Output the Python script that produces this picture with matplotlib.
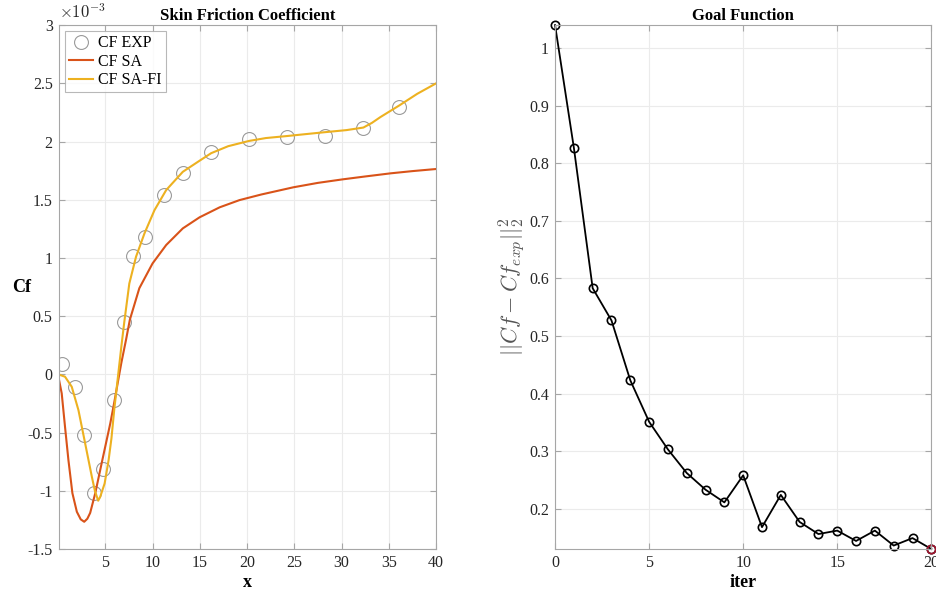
import numpy as np
import matplotlib
matplotlib.use("Agg")
import matplotlib.pyplot as plt
from matplotlib.ticker import FuncFormatter

plt.rcParams["font.family"] = ["Liberation Serif", "DejaVu Serif"]
plt.rcParams["mathtext.fontset"] = "cm"
plt.rcParams["axes.unicode_minus"] = False

# skin friction data, Cf values in units of 1e-3
x_exp = [0.46, 1.77, 2.77, 3.76, 4.79, 5.89, 7.02, 7.98, 9.15, 11.17, 13.2,
         16.2, 20.25, 24.2, 28.2, 32.3, 36.1]
cf_exp = [0.088, -0.112, -0.52, -1.017, -0.816, -0.221, 0.452, 1.019, 1.182,
          1.54, 1.73, 1.91, 2.02, 2.04, 2.05, 2.12, 2.30]

x_sa = [0.04, 0.39, 0.74, 1.1, 1.52, 1.99, 2.4, 2.77, 3.1, 3.4, 3.94, 4.65,
        5.53, 5.95, 6.3, 6.7, 7.2, 7.6, 8.6, 10.0, 11.44, 13.2, 14.97, 17.1,
        19.2, 21.5, 24.9, 27.5, 30.1, 32.5, 35.2, 37.5, 40.0]
cf_sa = [-0.02, -0.163, -0.45, -0.736, -1.02, -1.18, -1.245, -1.266, -1.24,
         -1.19, -1.02, -0.75, -0.42, -0.24, -0.08, 0.10, 0.30, 0.47, 0.74,
         0.953, 1.111, 1.254, 1.349, 1.435, 1.497, 1.545, 1.607, 1.645, 1.675,
         1.70, 1.727, 1.746, 1.764]

x_safi = [0.04, 0.74, 1.45, 2.16, 2.87, 3.58, 3.9, 4.25, 4.47, 4.93, 5.35,
          5.65, 5.95, 6.2, 6.45, 6.7, 7.01, 7.54, 8.25, 9.14, 10.2, 11.44,
          13.2, 14.97, 16.2, 18.0, 20.2, 22.0, 24.2, 26.0, 28.2, 30.5, 32.3,
          33.2, 34.1, 35.1, 36.1, 38.0, 40.0]
cf_safi = [0.0, -0.02, -0.106, -0.307, -0.593, -0.88, -1.0, -1.085, -1.05,
           -0.937, -0.736, -0.55, -0.3, -0.12, 0.06, 0.24, 0.45, 0.78, 1.01,
           1.21, 1.41, 1.583, 1.74, 1.835, 1.90, 1.96, 2.005, 2.03, 2.047,
           2.062, 2.08, 2.098, 2.12, 2.16, 2.21, 2.26, 2.31, 2.41, 2.50]

# goal function history
iters = list(range(21))
goal = [1.04, 0.827, 0.583, 0.527, 0.423, 0.351, 0.303, 0.262, 0.233, 0.211,
        0.258, 0.168, 0.224, 0.177, 0.156, 0.162, 0.144, 0.162, 0.136, 0.149,
        0.130]

scale = 1e-3
grid_c = "#EBEBEB"
spine_c = "#A6A6A6"
txt_c = "#262626"

fig = plt.figure(figsize=(9.36, 5.92), dpi=100)
ax1 = fig.add_axes([0.063, 0.0726, 0.403, 0.885])
ax2 = fig.add_axes([0.593, 0.0726, 0.402, 0.885])


def style(ax):
    ax.grid(True, color=grid_c, linewidth=0.8)
    ax.set_axisbelow(True)
    for s in ax.spines.values():
        s.set_color(spine_c)
        s.set_linewidth(0.8)
    ax.tick_params(direction="in", top=True, right=True, colors=spine_c,
                   labelcolor=txt_c, labelsize=11.5, length=4, pad=4.5)


# left panel
ax1.plot(np.array(x_exp), np.array(cf_exp) * scale, "o", mfc="none",
         mec="#9A9A9A", ms=10, mew=0.8, label="CF EXP")
ax1.plot(np.array(x_sa), np.array(cf_sa) * scale, color="#D95319", lw=1.5,
         label="CF SA")
ax1.plot(np.array(x_safi), np.array(cf_safi) * scale, color="#EDB120", lw=1.5,
         label="CF SA-FI")
ax1.set_xlim(0.1, 40)
ax1.set_ylim(-1.5e-3, 3e-3)
ax1.set_xticks([5, 10, 15, 20, 25, 30, 35, 40])
ax1.set_yticks(np.arange(-1.5, 3.01, 0.5) * scale)
ax1.yaxis.set_major_formatter(FuncFormatter(lambda v, _: f"{v / scale:g}"))
style(ax1)
ax1.set_title("Skin Friction Coefficient", fontweight="bold", fontsize=12,
              pad=4)
ax1.set_xlabel("x", fontweight="bold", fontsize=13, labelpad=2)
ax1.set_ylabel("Cf", fontweight="bold", fontsize=13, rotation=0, va="center")
ax1.yaxis.set_label_coords(-0.10, 0.5)
ax1.text(0.0, 1.005, r"$\times10^{-3}$", transform=ax1.transAxes, fontsize=12,
         color=txt_c, ha="left", va="bottom")
leg = ax1.legend(loc="upper left", fontsize=11.5, frameon=True, fancybox=False,
                 borderaxespad=0.4, handlelength=1.5, handletextpad=0.3,
                 borderpad=0.25, labelspacing=0.15)
leg.get_frame().set_edgecolor("#A6A6A6")
leg.get_frame().set_linewidth(0.8)

# right panel
ax2.plot(iters, goal, "-o", color="black", mfc="none", ms=6, mew=1.2, lw=1.3)
ax2.plot(iters[-1], goal[-1], "o", mfc="none", mec="#A2142F", ms=6, mew=1.2)
ax2.set_xlim(0, 20)
ax2.set_ylim(min(goal), max(goal))
ax2.set_xticks([0, 5, 10, 15, 20])
ax2.set_yticks([0.2, 0.3, 0.4, 0.5, 0.6, 0.7, 0.8, 0.9, 1.0])
ax2.yaxis.set_major_formatter(FuncFormatter(lambda v, _: f"{v:g}"))
for l in ax2.get_lines():
    l.set_clip_on(False)
style(ax2)
ax2.set_title("Goal Function", fontweight="bold", fontsize=12, pad=4)
ax2.set_xlabel("iter", fontweight="bold", fontsize=13, labelpad=2)
ax2.set_ylabel(r"$||Cf-Cf_{exp}||^2_2$", fontsize=16, color="#555555")
ax2.yaxis.set_label_coords(-0.074, 0.5)

plt.savefig("out.png", dpi=100)
